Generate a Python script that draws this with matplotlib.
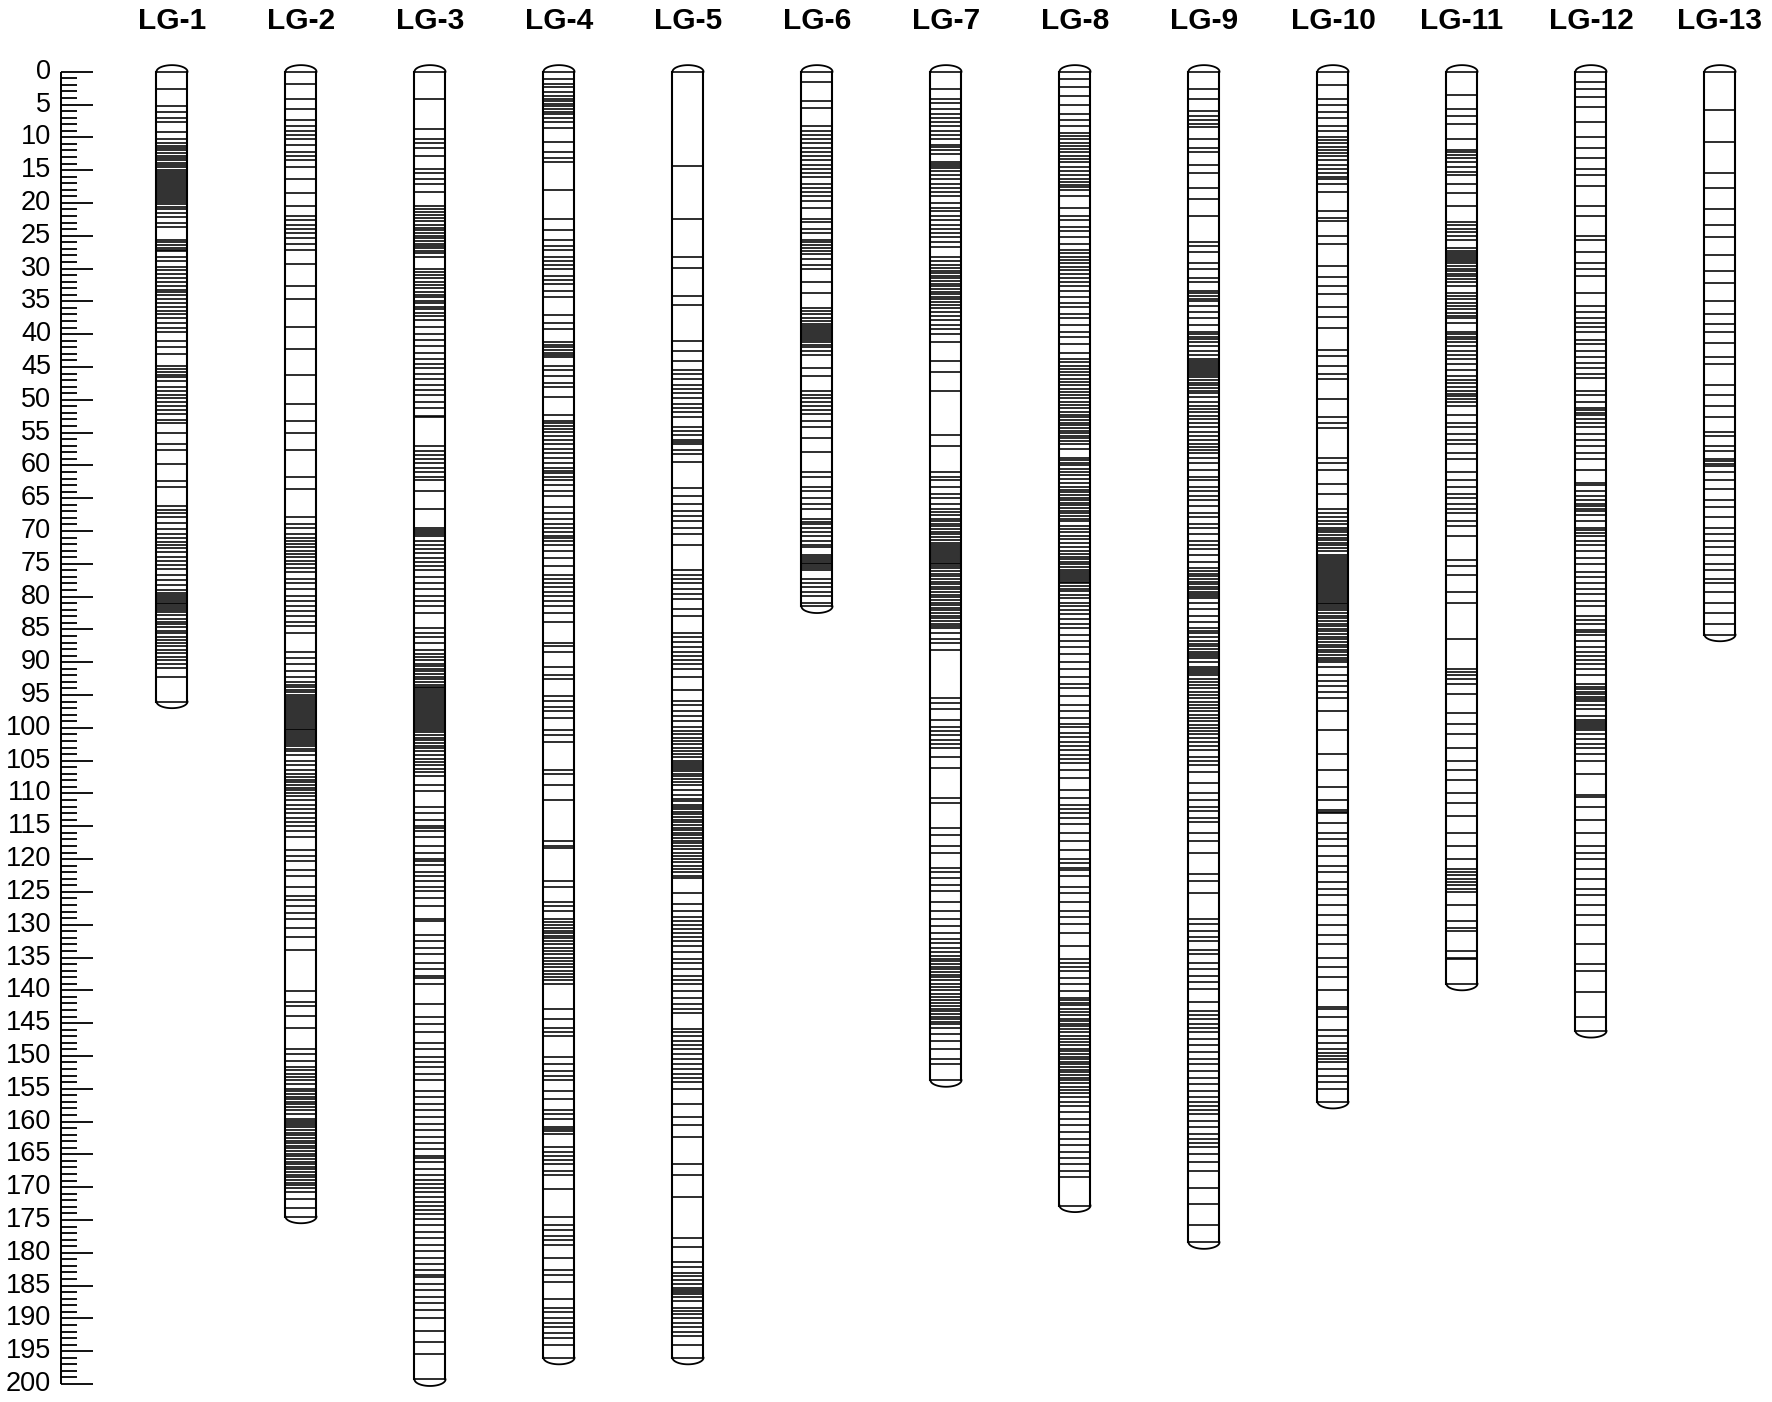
import numpy as np
import matplotlib
matplotlib.use('Agg')
import matplotlib.pyplot as plt

plt.rcParams['font.family'] = ['Liberation Sans', 'DejaVu Sans']

lg_names = ['LG-1', 'LG-2', 'LG-3', 'LG-4', 'LG-5', 'LG-6', 'LG-7',
            'LG-8', 'LG-9', 'LG-10', 'LG-11', 'LG-12', 'LG-13']

lg1 = [0, 2.6, 5.3, 6.1, 7.0, 7.7, 9.2, 10.2, 10.8, 11.3, 11.7, 12.0, 12.4, 12.8, 13.1, 13.5, 13.9,
       14.2, 14.6, 15.0, 15.3, 15.6, 15.9, 16.2, 16.5, 16.8, 17.1, 17.4, 17.7, 18.0, 18.3, 18.6, 18.9,
       19.2, 19.5, 19.8, 20.2, 20.6, 21.0, 21.5, 22.1, 23.0, 23.6, 25.6, 26.0, 26.4, 26.8, 27.1, 27.4,
       28.3, 28.8, 29.7, 30.2, 30.8, 31.5, 32.1, 32.6, 33.2, 33.6, 34.1, 34.7, 35.3, 35.8, 36.4, 37.0,
       37.6, 38.3, 39.1, 39.6, 41.1, 42.0, 43.0, 44.9, 45.3, 45.7, 46.2, 46.6, 47.2, 48.1, 48.7, 49.3,
       49.8, 50.4, 51.0, 51.6, 52.2, 53.1, 53.6, 55.1, 56.8, 57.7, 59.8, 62.4, 63.3, 66.2, 66.8, 67.3,
       67.9, 68.8, 69.7, 70.5, 71.1, 71.7, 72.2, 72.6, 73.2, 74.0, 74.6, 75.2, 75.8, 76.7, 77.5, 78.3,
       79.0, 79.4, 79.7, 80.0, 80.3, 80.6, 80.9, 81.2, 81.5, 81.8, 82.1, 82.4, 82.8, 83.4, 83.8, 84.2,
       84.7, 85.2, 85.6, 86.1, 86.6, 87.1, 87.6, 88.1, 88.6, 89.2, 89.7, 90.2, 90.9, 92.3, 96.0]

lg2 = [0, 1.8, 4.2, 5.7, 7.3, 8.3, 9.0, 9.6, 10.3, 11.2, 12.2, 12.9, 13.5, 14.5, 16.4, 18.5, 20.4,
       22.0, 22.6, 23.3, 23.9, 24.6, 25.4, 26.3, 27.1, 29.3, 32.6, 34.7, 38.9, 42.2, 46.3, 50.6, 53.2,
       55.0, 57.6, 61.7, 63.6, 67.9, 68.9, 69.5, 70.5, 71.0, 71.5, 72.0, 72.5, 73.0, 73.5, 74.0, 74.5,
       75.0, 75.7, 76.3, 77.3, 78.0, 78.9, 79.9, 80.6, 81.5, 82.2, 82.9, 83.8, 84.5, 85.5, 88.4, 89.4,
       90.3, 91.3, 92.3, 93.0, 93.4, 93.8, 94.2, 94.6, 95.0, 95.3, 95.6, 95.9, 96.2, 96.5, 96.8, 97.1,
       97.4, 97.7, 98.0, 98.3, 98.6, 98.9, 99.2, 99.5, 99.8, 100.1, 100.4, 100.7, 101.0, 101.3, 101.6,
       101.9, 102.2, 102.5, 102.8, 103.2, 103.6, 104.1, 105.1, 105.7, 106.4, 107.1, 107.5, 107.9, 108.3,
       108.7, 109.1, 109.5, 109.9, 110.4, 111.0, 111.7, 112.4, 113.0, 113.7, 114.3, 115.0, 115.7, 116.6,
       118.6, 119.6, 120.3, 121.6, 122.6, 124.2, 125.6, 126.2, 127.2, 128.2, 129.2, 130.5, 131.8, 133.8,
       140.1, 141.8, 142.4, 143.9, 145.7, 149.0, 149.7, 150.7, 151.7, 152.2, 152.7, 153.2, 153.7, 154.3,
       155.0, 155.4, 155.8, 156.2, 156.6, 157.0, 157.4, 157.8, 158.3, 158.8, 159.6, 159.9, 160.2, 160.5,
       160.9, 161.3, 161.7, 162.1, 162.5, 162.9, 163.3, 163.7, 164.1, 164.5, 164.9, 165.3, 165.7, 166.1,
       166.5, 166.9, 167.3, 167.7, 168.1, 168.5, 168.9, 169.3, 169.7, 170.2, 170.8, 171.8, 173.2, 174.5]

lg3 = [0, 4.1, 8.8, 10.3, 10.9, 11.6, 12.9, 14.8, 15.5, 16.3, 17.1, 18.3, 20.4, 20.9, 21.4, 21.9, 22.3,
       22.8, 23.3, 23.8, 24.2, 24.6, 25.0, 25.4, 25.8, 26.2, 26.5, 26.9, 27.3, 27.6, 28.2, 30.1, 30.5,
       31.0, 31.4, 32.1, 32.5, 33.0, 33.5, 34.0, 34.4, 34.9, 35.3, 35.8, 36.2, 36.7, 37.3, 37.9, 38.9,
       39.9, 40.9, 41.8, 42.8, 43.8, 44.6, 45.2, 46.1, 46.9, 47.7, 48.5, 49.3, 50.3, 51.3, 52.4, 52.6,
       57.1, 57.8, 58.4, 59.1, 59.7, 60.4, 61.0, 61.7, 62.3, 63.9, 66.6, 69.5, 69.8, 70.2, 70.5, 70.8,
       71.5, 72.1, 72.8, 73.4, 74.1, 74.7, 75.4, 76.0, 77.0, 78.0, 78.9, 79.9, 80.6, 81.5, 82.5, 84.8,
       85.5, 86.1, 87.1, 88.1, 88.7, 89.2, 89.7, 90.2, 90.6, 91.0, 91.4, 91.8, 92.2, 92.6, 93.0, 93.4,
       93.7, 94.0, 94.3, 94.6, 94.9, 95.2, 95.5, 95.8, 96.1, 96.4, 96.7, 97.0, 97.3, 97.6, 97.9, 98.2,
       98.5, 98.8, 99.1, 99.4, 99.7, 100.0, 100.3, 100.7, 101.1, 101.5, 101.9, 102.3, 102.7, 103.1,
       103.5, 104.1, 104.7, 105.2, 105.7, 106.2, 106.8, 107.4, 108.7, 109.7, 112.0, 113.0, 114.0, 115.0,
       115.3, 115.7, 116.6, 118.0, 119.0, 120.0, 120.3, 120.9, 121.9, 122.6, 123.4, 124.2, 124.9, 125.9,
       127.2, 129.2, 129.4, 131.5, 132.5, 133.5, 134.5, 135.8, 136.8, 137.8, 138.1, 139.1, 142.1, 144.1,
       145.1, 146.3, 148.0, 149.0, 150.2, 151.0, 151.7, 152.7, 153.7, 155.3, 156.3, 157.3, 158.3, 159.3,
       160.3, 161.3, 162.3, 163.2, 164.2, 165.2, 165.5, 166.2, 167.2, 168.2, 168.9, 169.5, 170.2, 170.8,
       171.5, 172.2, 172.8, 173.5, 174.1, 174.8, 175.8, 176.8, 177.8, 178.8, 179.8, 180.8, 181.7, 182.7,
       183.4, 183.7, 184.7, 185.7, 186.7, 187.7, 188.7, 190.0, 191.9, 193.6, 195.4, 199.3]

lg4 = [0, 1.1, 1.8, 2.4, 3.1, 3.7, 4.1, 4.5, 4.9, 5.3, 5.7, 6.1, 6.5, 7.0, 7.7, 8.6, 10.7, 12.2, 13.2,
       13.8, 18.1, 22.4, 24.1, 25.6, 26.5, 27.2, 28.2, 28.8, 29.5, 30.1, 31.1, 31.7, 32.4, 33.4, 34.3,
       37.1, 38.3, 39.2, 41.2, 41.6, 42.0, 42.4, 42.8, 43.1, 43.5, 44.8, 45.4, 46.4, 47.4, 48.0, 49.6,
       52.3, 53.2, 53.6, 54.0, 54.4, 54.9, 55.5, 56.2, 56.8, 57.5, 58.1, 58.8, 59.7, 60.4, 60.8, 61.2,
       61.7, 62.3, 63.0, 63.9, 64.6, 66.3, 67.2, 68.2, 68.9, 69.5, 70.2, 70.8, 71.1, 71.5, 72.1, 73.1,
       74.1, 75.4, 76.7, 77.3, 78.0, 78.6, 79.3, 79.9, 80.6, 81.5, 82.5, 83.8, 87.1, 87.5, 88.4, 90.7,
       92.0, 92.6, 95.2, 95.9, 96.8, 97.5, 98.5, 100.3, 101.1, 102.1, 106.4, 107.1, 108.7, 111.0, 117.3,
       118.0, 118.3, 123.4, 124.2, 126.6, 127.2, 127.9, 129.1, 129.6, 130.1, 130.5, 130.9, 131.3, 131.7,
       132.1, 132.5, 133.0, 133.5, 134.0, 134.5, 135.0, 135.5, 136.0, 136.5, 137.0, 137.5, 138.0, 138.5,
       139.1, 142.8, 144.4, 145.7, 146.4, 147.0, 150.2, 151.3, 152.3, 153.0, 153.7, 155.3, 156.6, 158.3,
       158.9, 159.6, 160.9, 161.2, 161.5, 161.9, 163.9, 164.6, 165.2, 165.9, 166.5, 167.5, 168.2, 170.3,
       174.5, 175.8, 176.5, 177.5, 178.1, 178.8, 180.8, 182.7, 183.4, 184.4, 187.0, 188.4, 189.0, 190.0,
       190.7, 191.3, 192.3, 193.0, 194.0, 196.0]

lg5 = [0, 14.4, 22.4, 28.2, 29.9, 34.2, 35.5, 41.0, 42.5, 44.1, 45.4, 46.1, 46.9, 47.7, 48.3, 49.0, 49.8,
       50.6, 51.3, 51.9, 52.6, 54.2, 54.7, 55.4, 56.2, 56.5, 56.8, 57.6, 58.2, 59.5, 63.4, 64.6, 65.9,
       66.9, 67.7, 68.5, 69.5, 70.5, 72.1, 76.0, 76.7, 77.3, 78.0, 78.9, 79.6, 80.4, 81.9, 82.9, 85.5,
       86.2, 86.9, 87.7, 88.4, 89.0, 89.7, 90.3, 91.0, 92.3, 94.2, 95.9, 96.5, 97.5, 98.2, 99.0, 99.8,
       100.5, 101.0, 101.5, 102.0, 102.5, 103.0, 103.5, 104.0, 104.5, 105.0, 105.3, 105.6, 106.0, 106.3,
       106.6, 107.0, 107.4, 107.8, 108.2, 108.7, 109.5, 110.3, 110.8, 111.2, 111.7, 112.0, 112.4, 112.8,
       113.2, 113.6, 114.0, 114.4, 114.8, 115.2, 115.6, 116.0, 116.4, 116.8, 117.2, 117.6, 118.0, 118.5,
       119.0, 119.5, 120.0, 120.5, 121.0, 121.5, 122.0, 122.6, 122.9, 125.1, 126.9, 127.9, 128.9, 129.5,
       130.1, 130.7, 131.2, 131.8, 132.5, 133.2, 134.2, 135.2, 135.8, 136.8, 137.8, 138.5, 139.1, 140.1,
       141.1, 142.1, 142.8, 143.4, 145.9, 146.4, 147.0, 147.7, 148.4, 149.0, 149.7, 150.4, 151.3, 152.0,
       152.7, 153.3, 154.0, 155.0, 157.3, 159.3, 160.6, 162.4, 166.5, 168.2, 171.5, 177.8, 179.1, 181.4,
       182.1, 183.1, 183.6, 184.1, 184.7, 185.4, 185.7, 186.0, 186.3, 186.7, 187.4, 188.4, 188.8, 189.3,
       190.0, 190.7, 191.3, 192.0, 192.7, 194.0, 196.0]

lg6 = [0, 1.5, 4.4, 5.5, 8.3, 9.0, 9.6, 10.3, 10.9, 11.6, 12.2, 12.9, 13.5, 14.2, 14.8, 15.5, 16.1, 17.1,
       17.7, 18.4, 19.0, 19.7, 20.7, 22.4, 22.9, 23.9, 24.6, 25.6, 26.0, 26.4, 26.8, 27.3, 27.8, 28.5,
       29.5, 30.1, 32.1, 33.7, 36.0, 36.5, 37.0, 37.5, 38.0, 38.4, 38.8, 39.1, 39.4, 39.7, 40.0, 40.3,
       40.6, 40.9, 41.2, 41.6, 42.0, 42.5, 43.1, 45.1, 46.4, 48.7, 49.2, 49.7, 50.3, 50.9, 51.6, 52.2,
       53.2, 54.2, 55.8, 57.9, 61.0, 61.7, 63.3, 63.9, 64.9, 65.9, 66.6, 68.2, 68.6, 69.0, 69.5, 70.2,
       70.8, 71.5, 72.1, 72.4, 73.6, 73.9, 74.2, 74.5, 74.8, 75.1, 75.4, 75.7, 76.0, 77.3, 78.0, 78.6,
       79.3, 79.9, 80.9, 81.5]

lg7 = [0, 2.6, 4.1, 4.7, 5.7, 6.4, 7.0, 7.7, 8.3, 9.0, 9.6, 10.3, 11.2, 11.4, 11.9, 12.5, 13.8, 14.1,
       14.4, 14.7, 15.1, 15.8, 16.4, 17.1, 17.7, 18.4, 19.0, 20.0, 20.7, 21.3, 22.0, 22.6, 23.3, 23.9,
       24.6, 25.2, 25.9, 26.7, 28.2, 28.8, 29.5, 29.9, 30.3, 30.7, 31.1, 31.5, 31.9, 32.3, 32.7, 33.1,
       33.5, 33.9, 34.3, 34.7, 35.1, 35.5, 36.0, 36.6, 37.3, 37.9, 38.6, 39.2, 39.9, 41.2, 44.1, 45.7,
       48.7, 55.4, 57.1, 61.0, 61.7, 62.3, 63.3, 64.3, 64.9, 65.9, 66.6, 67.1, 67.6, 68.1, 68.5, 68.9,
       69.3, 69.7, 70.1, 70.5, 70.9, 71.3, 71.8, 72.1, 72.4, 72.7, 73.0, 73.3, 73.6, 73.9, 74.2, 74.5,
       74.8, 75.1, 75.4, 75.7, 76.1, 76.5, 76.9, 77.3, 77.7, 78.1, 78.5, 78.9, 79.3, 79.7, 80.1, 80.5,
       80.9, 81.3, 81.7, 82.1, 82.5, 82.9, 83.3, 83.7, 84.1, 84.5, 84.8, 85.5, 86.4, 87.1, 88.1, 95.5,
       96.2, 97.2, 98.8, 99.8, 100.5, 101.1, 101.8, 102.4, 103.1, 104.4, 106.1, 110.7, 111.4, 115.3,
       116.3, 118.0, 119.0, 121.3, 121.9, 122.9, 123.9, 124.9, 126.6, 127.9, 129.2, 130.2, 131.2, 132.2,
       132.8, 133.5, 134.2, 134.8, 135.2, 135.6, 136.0, 136.4, 136.8, 137.2, 137.6, 138.0, 138.5, 139.0,
       139.5, 140.0, 140.5, 141.0, 141.5, 142.0, 142.4, 142.8, 143.2, 143.6, 144.0, 144.4, 144.8, 145.1,
       145.7, 146.7, 147.7, 149.0, 150.4, 151.3, 153.7]

lg8 = [0, 1.1, 2.4, 3.7, 5.1, 6.4, 7.3, 8.3, 9.3, 9.8, 10.3, 10.8, 11.3, 11.8, 12.3, 12.8, 13.3, 13.8,
       14.5, 15.1, 15.8, 16.4, 16.8, 17.2, 17.6, 18.1, 19.0, 20.7, 22.0, 22.6, 23.6, 24.3, 25.2, 26.2,
       27.2, 27.7, 28.2, 28.7, 29.2, 29.7, 30.2, 30.8, 31.4, 32.1, 32.7, 33.4, 34.3, 35.3, 35.9, 36.9,
       37.6, 38.6, 39.6, 40.5, 41.5, 42.8, 43.8, 44.3, 44.8, 45.3, 45.8, 46.3, 46.8, 47.3, 47.8, 48.3,
       48.8, 49.3, 49.8, 50.3, 50.8, 51.3, 51.8, 52.3, 52.7, 53.1, 53.5, 53.9, 54.3, 54.7, 55.1, 55.5,
       55.9, 56.3, 56.8, 57.5, 58.8, 59.2, 59.6, 60.0, 60.5, 61.0, 61.5, 62.0, 62.7, 63.3, 63.7, 64.1,
       64.5, 64.9, 65.3, 65.7, 66.1, 66.5, 66.9, 67.3, 67.7, 68.1, 68.5, 69.2, 69.7, 70.2, 70.7, 71.2,
       71.8, 72.4, 73.1, 73.5, 73.9, 74.3, 74.7, 75.1, 75.5, 75.9, 76.2, 76.5, 76.8, 77.1, 77.4, 77.7,
       78.0, 78.4, 78.8, 79.2, 79.7, 80.2, 80.9, 81.5, 82.1, 82.7, 83.4, 84.1, 84.8, 85.8, 86.8, 87.7,
       88.7, 90.0, 91.0, 92.3, 93.3, 93.9, 95.2, 96.5, 97.5, 98.5, 99.4, 99.8, 100.8, 101.4, 102.1,
       102.8, 103.4, 104.1, 104.7, 105.4, 106.4, 107.7, 109.4, 110.7, 111.7, 112.4, 113.0, 113.7, 114.7,
       116.0, 117.3, 118.6, 120.0, 120.6, 121.3, 121.6, 122.6, 124.2, 125.2, 126.6, 127.9, 128.9, 129.9,
       131.2, 133.2, 135.2, 135.8, 136.5, 137.1, 138.1, 139.1, 140.1, 141.1, 141.5, 141.9, 142.3, 142.8,
       143.3, 143.8, 144.3, 144.7, 145.1, 145.5, 145.9, 146.4, 146.9, 147.4, 147.9, 148.4, 148.9, 149.3,
       149.7, 150.1, 150.5, 150.9, 151.3, 151.7, 152.1, 152.5, 152.9, 153.3, 153.7, 154.2, 154.7, 155.2,
       155.7, 156.3, 157.0, 157.6, 158.6, 159.6, 160.6, 161.6, 162.6, 163.6, 164.6, 165.6, 166.5, 167.5,
       168.5, 172.8]

lg9 = [0, 2.6, 4.1, 6.0, 6.7, 7.3, 7.9, 8.5, 10.3, 11.6, 12.2, 14.2, 15.5, 17.7, 19.4, 22.0, 25.9, 26.5,
       27.5, 29.1, 30.1, 31.4, 32.1, 33.4, 33.8, 34.2, 34.7, 35.0, 35.7, 36.6, 37.6, 38.6, 39.6, 40.0,
       40.4, 40.8, 41.2, 41.8, 42.5, 43.1, 43.8, 44.1, 44.4, 44.7, 45.0, 45.3, 45.6, 45.9, 46.2, 46.6,
       47.0, 47.4, 47.8, 48.2, 48.6, 49.0, 49.6, 50.3, 50.9, 51.4, 51.9, 52.4, 52.9, 53.6, 54.2, 54.9,
       55.5, 56.2, 56.8, 57.2, 57.6, 58.1, 58.8, 59.7, 60.7, 61.7, 62.3, 63.3, 63.9, 64.6, 65.2, 66.2,
       67.2, 67.9, 68.9, 69.5, 70.5, 71.5, 72.1, 72.8, 73.7, 74.7, 75.7, 76.1, 76.5, 76.9, 77.3, 77.7,
       78.1, 78.5, 78.9, 79.3, 79.6, 79.9, 80.2, 80.9, 81.9, 82.9, 83.8, 84.8, 85.2, 85.6, 86.1, 86.8,
       87.2, 87.6, 88.0, 88.4, 88.8, 89.1, 89.4, 90.0, 90.7, 91.0, 91.3, 91.6, 92.0, 92.6, 93.0, 93.5,
       94.0, 94.5, 95.0, 95.5, 96.0, 96.5, 97.0, 97.5, 98.0, 98.5, 99.0, 99.5, 100.0, 100.5, 101.0,
       101.6, 102.2, 102.8, 103.4, 104.4, 105.1, 105.7, 106.7, 108.4, 110.0, 111.0, 112.0, 112.7, 113.7,
       114.3, 116.0, 117.3, 119.0, 122.3, 123.3, 125.2, 129.2, 129.9, 130.9, 131.8, 132.5, 133.8, 134.5,
       135.8, 136.8, 137.8, 138.8, 139.8, 141.8, 143.1, 143.7, 144.4, 145.1, 145.7, 146.4, 147.4, 148.4,
       149.4, 150.4, 151.3, 152.3, 153.3, 154.3, 155.3, 156.3, 157.0, 157.6, 158.3, 158.9, 159.9, 160.9,
       161.9, 162.6, 163.2, 163.9, 164.9, 166.2, 167.5, 170.2, 172.5, 175.8, 178.4]

lg10 = [0, 2.0, 4.1, 5.1, 6.2, 7.0, 8.3, 9.0, 9.9, 10.4, 10.9, 11.4, 11.9, 12.4, 12.9, 13.5, 14.2, 14.8,
        15.5, 16.0, 16.4, 17.1, 18.4, 21.3, 22.3, 22.8, 25.0, 26.3, 29.6, 31.3, 32.6, 33.9, 35.8, 37.4,
        39.1, 42.4, 43.3, 44.9, 46.1, 46.9, 49.9, 52.6, 53.6, 54.3, 58.9, 59.7, 60.7, 62.9, 64.3, 66.6,
        67.2, 67.8, 68.4, 69.0, 69.5, 69.8, 70.2, 70.6, 71.0, 71.4, 71.8, 72.2, 72.6, 73.1, 73.7, 74.0,
        74.3, 74.6, 74.9, 75.2, 75.5, 75.8, 76.1, 76.4, 76.7, 77.0, 77.3, 77.6, 77.9, 78.2, 78.5, 78.8,
        79.1, 79.4, 79.7, 80.0, 80.3, 80.6, 80.9, 81.2, 81.5, 81.8, 82.1, 82.5, 82.9, 83.3, 83.7, 84.1,
        84.5, 84.9, 85.3, 85.7, 86.1, 86.5, 86.9, 87.3, 87.7, 88.1, 88.5, 88.9, 89.3, 89.7, 90.0, 90.7,
        92.0, 92.9, 93.6, 94.6, 95.5, 97.5, 100.3, 104.0, 106.5, 109.0, 111.0, 112.5, 112.8, 113.0, 114.5,
        116.0, 117.0, 118.0, 119.5, 121.0, 122.0, 123.5, 124.5, 125.5, 127.0, 128.5, 130.0, 131.5, 133.0,
        135.0, 136.5, 138.0, 140.0, 142.5, 142.8, 144.0, 146.0, 147.0, 148.0, 149.0, 149.5, 150.0, 150.5,
        151.0, 152.0, 153.0, 154.0, 155.0, 157.0]

lg11 = [0, 3.6, 5.7, 6.7, 7.9, 10.3, 11.9, 12.3, 12.7, 13.2, 13.8, 14.5, 15.3, 15.8, 17.1, 18.5, 20.4,
        22.9, 23.4, 23.9, 24.4, 25.0, 25.6, 26.9, 27.3, 27.6, 27.9, 28.2, 28.5, 28.8, 29.2, 29.6, 30.0,
        30.4, 30.8, 31.2, 31.6, 32.1, 32.7, 33.7, 34.2, 34.7, 35.2, 35.7, 36.2, 36.7, 37.3, 37.6, 38.3,
        39.6, 40.0, 40.4, 40.8, 41.2, 41.8, 42.5, 43.1, 43.8, 44.6, 45.4, 46.4, 47.0, 47.5, 48.0, 48.7,
        49.1, 49.5, 49.9, 50.3, 50.9, 52.3, 53.6, 54.2, 55.2, 56.2, 56.8, 58.1, 59.1, 61.0, 62.3, 63.3,
        64.3, 64.9, 65.9, 66.6, 67.2, 68.5, 69.2, 70.8, 74.4, 75.4, 76.7, 79.3, 80.9, 86.4, 91.0, 91.5,
        92.0, 92.6, 93.3, 94.9, 97.8, 99.4, 101.0, 103.0, 105.0, 106.5, 108.0, 110.0, 111.5, 113.5, 116.0,
        118.0, 120.0, 121.5, 122.0, 122.5, 123.0, 123.5, 124.0, 124.5, 125.0, 127.0, 129.5, 130.5, 131.0,
        134.0, 135.0, 135.3, 139.0]

lg12 = [0, 1.5, 2.6, 3.9, 5.4, 7.7, 9.9, 11.6, 13.2, 14.8, 15.7, 17.4, 20.4, 22.0, 25.0, 25.6, 27.5,
        29.1, 30.1, 31.1, 33.7, 35.7, 36.6, 37.6, 38.3, 38.9, 39.6, 40.9, 41.5, 42.5, 43.5, 44.4, 45.1,
        46.1, 46.7, 48.7, 49.3, 50.3, 51.3, 51.6, 52.0, 52.3, 52.9, 53.6, 54.2, 55.2, 56.2, 57.1, 58.1,
        59.1, 60.7, 62.7, 63.0, 63.9, 64.6, 65.2, 65.9, 66.2, 66.6, 66.9, 67.5, 68.5, 69.5, 69.9, 70.3,
        70.8, 71.5, 72.1, 73.1, 74.1, 75.0, 76.3, 77.0, 78.0, 78.9, 79.6, 80.6, 81.5, 82.9, 83.5, 84.1,
        85.1, 85.4, 85.8, 86.8, 87.7, 88.4, 89.0, 89.7, 90.3, 91.0, 92.0, 93.3, 93.7, 94.1, 94.5, 94.9,
        95.3, 95.6, 95.9, 96.5, 97.2, 98.2, 98.8, 99.1, 99.4, 99.7, 100.0, 100.3, 101.0, 101.7, 102.4,
        103.0, 104.0, 105.0, 107.0, 110.3, 110.6, 112.0, 114.0, 116.0, 118.0, 119.0, 120.0, 121.5, 123.0,
        124.5, 125.5, 127.0, 128.5, 130.0, 133.0, 136.0, 137.0, 140.2, 144.0, 146.2]

lg13 = [0, 5.9, 10.7, 15.5, 17.7, 21.0, 23.3, 25.2, 28.0, 30.4, 32.2, 35.0, 36.9, 38.5, 39.6, 41.4, 43.5,
        44.6, 47.8, 49.3, 50.9, 52.6, 54.9, 55.5, 57.1, 57.8, 59.1, 59.4, 59.8, 60.1, 61.0, 62.3, 63.6,
        65.3, 66.3, 67.9, 69.5, 70.5, 71.5, 72.4, 73.7, 75.0, 76.0, 77.3, 78.0, 79.3, 80.9, 82.5, 84.2,
        85.8]

scale_ticks = list(range(0, 201, 5))

groups = [lg1, lg2, lg3, lg4, lg5, lg6, lg7, lg8, lg9, lg10, lg11, lg12, lg13]

# ---- layout ----
W, H = 1772, 1402
fig = plt.figure(figsize=(W / 100, H / 100), dpi=100)
ax = fig.add_axes([0, 0, 1, 1])
ax.set_xlim(0, W)
y0_px, y200_px = 71.7, 1384.0
k = 200.0 / (y200_px - y0_px)
ax.set_ylim((H - y0_px) * k, -y0_px * k)
ax.axis('off')

# ruler
axis_x = 61
ax.plot([axis_x, axis_x], [0, 200], color='black', lw=1.4, solid_capstyle='butt')
minor = np.arange(0, 201)
minor = minor[minor % 5 != 0]
ax.hlines(minor, axis_x, 77, color='black', lw=1.3)
ax.hlines(scale_ticks, axis_x, 93, color='black', lw=1.3)
for v in scale_ticks:
    ax.text(51, v, str(v), ha='right', va='center', fontsize=19.5, color='black')

# chromosomes
centers = 172 + 129 * np.arange(len(groups))
half = 15.5
cap = 1.0
t = np.linspace(0, np.pi, 80)
label_y = (21.0 - y0_px) * k
for cx, name, pos in zip(centers, lg_names, groups):
    pos = np.asarray(pos, dtype=float)
    L = pos.max()
    ax.hlines(pos, cx - half, cx + half, color='black', lw=1.15)
    ax.plot([cx - half, cx - half], [0, L], color='black', lw=1.5)
    ax.plot([cx + half, cx + half], [0, L], color='black', lw=1.5)
    ax.plot(cx + half * np.cos(t), -cap * np.sin(t), color='black', lw=1.3)
    ax.plot(cx + half * np.cos(t), L + cap * np.sin(t), color='black', lw=1.3)
    ax.text(cx, label_y, name, ha='center', va='center', fontsize=21.5,
            fontweight='bold', color='black')

fig.savefig('out.png', dpi=100, facecolor='white')
